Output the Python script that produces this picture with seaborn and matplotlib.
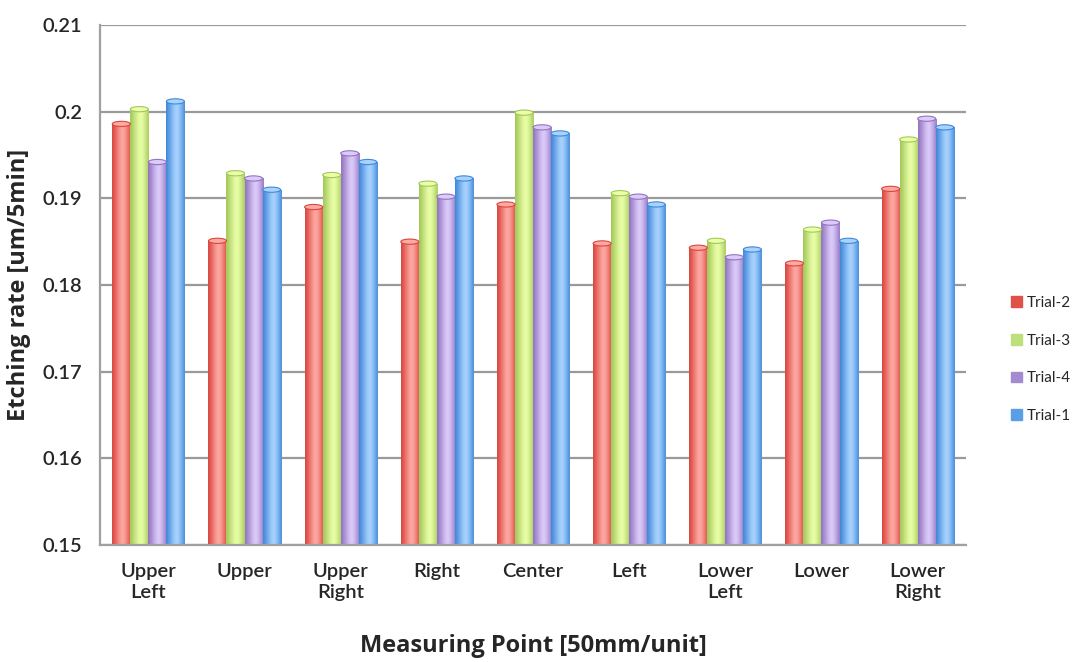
import numpy as np
import pandas as pd
import matplotlib.pyplot as plt
import seaborn as sns
from matplotlib.colors import LinearSegmentedColormap
from matplotlib.patches import Ellipse


# measuring points and etching rates
points = ['Upper\nLeft', 'Upper', 'Upper\nRight', 'Right', 'Center',
          'Left', 'Lower\nLeft', 'Lower', 'Lower\nRight']
trials = ['Trial-2', 'Trial-3', 'Trial-4', 'Trial-1']
trial2 = [0.1986, 0.1851, 0.1890, 0.1850, 0.1893, 0.1848, 0.1843, 0.1825, 0.1911]
trial3 = [0.2003, 0.1929, 0.1927, 0.1917, 0.1999, 0.1906, 0.1851, 0.1864, 0.1968]
trial4 = [0.1942, 0.1923, 0.1952, 0.1902, 0.1982, 0.1902, 0.1832, 0.1872, 0.1992]
trial1 = [0.2012, 0.1910, 0.1942, 0.1923, 0.1975, 0.1893, 0.1841, 0.1851, 0.1982]
yticks = [0.15, 0.16, 0.17, 0.18, 0.19, 0.2, 0.21]

df = pd.DataFrame({
    'point': points * 4,
    'trial': np.repeat(trials, len(points)),
    'rate': trial2 + trial3 + trial4 + trial1,
})

# (edge, highlight) colours for the cylinder shading
shades = {
    'Trial-2': ('#d9463f', '#ffa9a3'),
    'Trial-3': ('#a3c85a', '#eaffa8'),
    'Trial-4': ('#9274bf', '#dccbfa'),
    'Trial-1': ('#3f88d9', '#a9d3ff'),
}
legend_colors = {'Trial-2': '#e0514a', 'Trial-3': '#bde07a',
                 'Trial-4': '#a48ad0', 'Trial-1': '#5a9ee6'}

sns.set_style('white')
plt.rcParams['font.family'] = ['Lato', 'DejaVu Sans']

fig = plt.figure(figsize=(10.9, 6.62), dpi=100)
ax = fig.add_axes([0.092, 0.177, 0.794, 0.785])

sns.barplot(data=df, x='point', y='rate', hue='trial', hue_order=trials,
            palette=legend_colors, width=0.75, gap=0.0, saturation=1,
            dodge=True, legend=False, ax=ax)

ax.set_ylim(0.15, 0.21)
ax.set_yticks(yticks, labels=['0.15', '0.16', '0.17', '0.18', '0.19', '0.2', '0.21'])
ax.set_xlim(-0.5, len(points) - 0.5)
ax.yaxis.grid(True, color='#9a9a9a', lw=1.6, zorder=0)
ax.set_axisbelow(True)

# cylinder look: horizontal gradient clipped to every bar
grad = np.array([0.0, 0.25, 0.55, 0.85, 1.0, 0.8, 0.45, 0.1])
grad = np.interp(np.linspace(0, 7, 64), np.arange(8), grad).reshape(1, -1)
for i, container in enumerate(ax.containers):
    edge, light = shades[trials[i]]
    cmap = LinearSegmentedColormap.from_list(trials[i], [edge, light])
    for bar in container:
        x0, w, h = bar.get_x(), bar.get_width(), bar.get_height()
        bar.set_alpha(0)
        im = ax.imshow(grad, cmap=cmap, aspect='auto', extent=(x0, x0 + w, 0.15, h),
                       zorder=2, interpolation='bicubic')
        im.set_clip_path(bar)
        ax.add_patch(Ellipse((x0 + w / 2, h), w, 0.0006, color=light, ec=edge, lw=0.8, zorder=3))

# category separators below the axis
ax.set_xticks(np.arange(len(points)))
ax.set_xticklabels(points, fontsize=14.5, linespacing=1.3)
ax.set_xticks(np.arange(len(points) + 1) - 0.5, minor=True)
ax.tick_params(axis='x', which='major', length=0, pad=13)
ax.tick_params(axis='x', which='minor', length=6, width=1.5, color='#a0a0a0', direction='out')
ax.tick_params(axis='y', length=6, width=1.5, color='#a0a0a0', direction='out', labelsize=14.5, pad=7)
for lab in ax.get_xticklabels() + ax.get_yticklabels():
    lab.set_fontweight('semibold')

for side in ['top', 'right']:
    ax.spines[side].set_visible(False)
for side in ['left', 'bottom']:
    ax.spines[side].set_color('#a0a0a0')
    ax.spines[side].set_linewidth(1.6)

label_font = {'family': ['Open Sans', 'DejaVu Sans'], 'size': 17, 'weight': 'bold'}
ax.set_xlabel('Measuring Point [50mm/unit]', fontdict=label_font, labelpad=24)
ax.set_ylabel('Etching rate [um/5min]', fontdict=label_font, labelpad=8)

handles = [plt.Rectangle((0, 0), 1, 1, color=legend_colors[t]) for t in trials]
fig.legend(handles, trials, loc='center left', bbox_to_anchor=(0.915, 0.457), frameon=False,
           fontsize=11, handlelength=0.7, handleheight=0.7, handletextpad=0.3, labelspacing=1.55)

fig.savefig('out.png', dpi=100)
